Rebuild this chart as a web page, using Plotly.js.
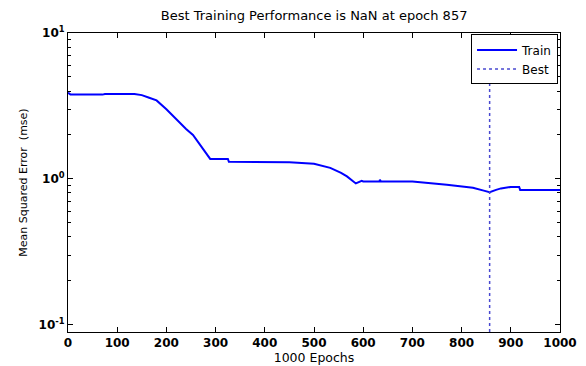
<!DOCTYPE html>
<html>
<head>
<meta charset="utf-8">
<script src="https://cdn.plot.ly/plotly-3.0.1.min.js"></script>
<style>html,body{margin:0;padding:0;background:#fff;}#chart{width:586px;height:366px;}</style>
</head>
<body>
<div id="chart"></div>
<script>
// Training curve
const epochs = [0, 5, 70, 75, 135, 150, 165, 180, 200, 221, 240, 254, 275, 289, 325, 327, 450, 500, 533, 555, 567, 580, 585, 597, 600, 633, 634, 636, 700, 770, 823, 845, 857, 870, 880, 900, 917, 919, 1000];
const trainMse = [3.9, 3.78, 3.78, 3.82, 3.82, 3.75, 3.6, 3.45, 3.0, 2.54, 2.2, 2.0, 1.6, 1.37, 1.37, 1.31, 1.30, 1.27, 1.19, 1.1, 1.04, 0.95, 0.93, 0.97, 0.96, 0.96, 0.985, 0.96, 0.96, 0.91, 0.87, 0.83, 0.81, 0.84, 0.86, 0.88, 0.88, 0.84, 0.84];
const bestEpoch = 857;
const bestY = [0.089, 10];
const yTickVals = [0.1, 1, 10];
const yTickText = ['10<sup>-1</sup>', '10<sup>0</sup>', '10<sup>1</sup>'];
const xTickVals = [0, 100, 200, 300, 400, 500, 600, 700, 800, 900, 1000];

const minorVals = [];
[0.1, 1].forEach(d => { for (let k = 2; k <= 9; k++) minorVals.push(d * k); });

const FONT = 'DejaVu Sans, Verdana, sans-serif';

const traces = [
  {x: epochs, y: trainMse, type: 'scatter', mode: 'lines', name: 'Train',
   line: {color: '#0000ff', width: 2}},
  {x: [bestEpoch, bestEpoch], y: bestY, type: 'scatter', mode: 'lines', name: 'Best',
   line: {color: '#4848d0', width: 1.5, dash: 'dot'}}
];

const layout = {
  width: 586, height: 366,
  margin: {l: 68, r: 26, t: 33, b: 34},
  paper_bgcolor: '#fff', plot_bgcolor: '#fff',
  font: {family: FONT, color: '#000'},
  title: {text: 'Best Training Performance is NaN at epoch 857', font: {size: 13, color: '#000', family: FONT},
          x: 0.536, xanchor: 'center', y: 0.958, yanchor: 'middle'},
  showlegend: true,
  legend: {x: 0.996, xanchor: 'right', y: 0.995, yanchor: 'top', bordercolor: '#000', borderwidth: 1,
           bgcolor: '#fff', font: {size: 12, family: FONT}, itemwidth: 40, tracegroupgap: 0},
  xaxis: {range: [0, 1000], tickvals: xTickVals, ticks: 'inside', ticklen: 5, tickcolor: '#000',
          showline: true, linecolor: '#000', linewidth: 1, mirror: 'allticks', showgrid: false, zeroline: false,
          tickfont: {size: 12, family: FONT, weight: 'bold'},
          title: {text: '1000 Epochs', font: {size: 12.5, family: FONT}, standoff: 1}},
  yaxis: {type: 'log', range: [-1.05, 1], tickvals: yTickVals, ticktext: yTickText, ticks: 'inside', ticklen: 5,
          tickcolor: '#000', showline: true, linecolor: '#000', linewidth: 1, mirror: 'allticks',
          showgrid: false, zeroline: false,
          minor: {tickvals: minorVals, ticks: 'inside', ticklen: 3, tickcolor: '#000', showgrid: false},
          tickfont: {size: 12, family: FONT, weight: 'bold'},
          title: {text: 'Mean Squared Error  (mse)', font: {size: 11, family: FONT}, standoff: 8}}
};

Plotly.newPlot('chart', traces, layout, {displayModeBar: false, staticPlot: true});
</script>
</body>
</html>
